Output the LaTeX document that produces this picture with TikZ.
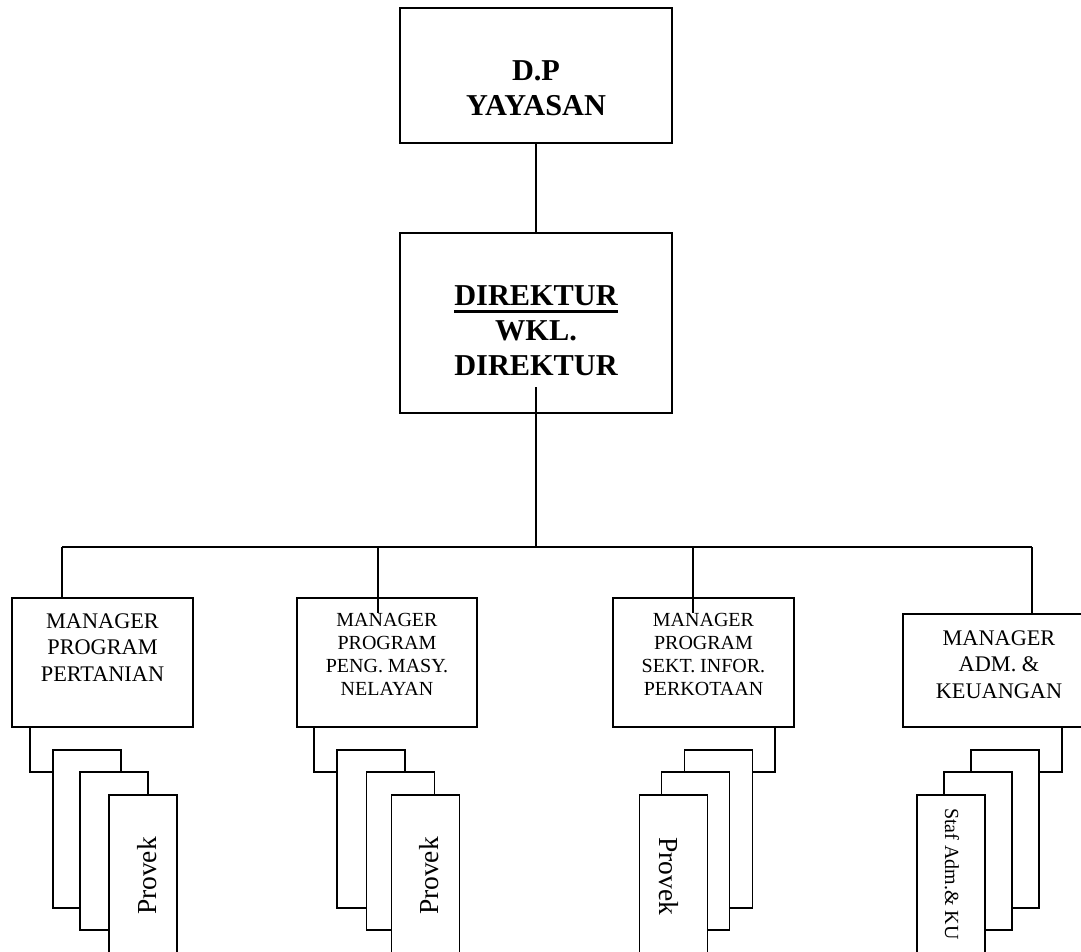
\documentclass[tikz,border=0pt]{standalone}
\usepackage{fontspec}
\setmainfont{Liberation Serif}
\newcommand\thickul[1]{\setbox0\hbox{#1}\rlap{\raisebox{-7.5pt}{\rule{\wd0}{2.6pt}}}\box0}
\begin{document}
\begin{tikzpicture}[x=1pt,y=-1pt,
  box/.style={draw,line width=1.5pt,fill=white,rectangle,inner sep=0pt},
  card/.style={box,minimum width=68pt,minimum height=158pt},
  link/.style={line width=1.5pt},
  % text blocks are placed by the baseline of their last line
  head/.style={inner sep=0pt,anchor=base,align=center,font=\bfseries\fontsize{30.3}{35}\selectfont},
  mgrA/.style={inner sep=0pt,anchor=base,align=center,font=\fontsize{22.3}{26.5}\selectfont},
  mgrB/.style={inner sep=0pt,anchor=base,align=center,font=\fontsize{20}{22.7}\selectfont},
  lbl/.style={inner sep=0pt,font=\fontsize{27.5}{30}\selectfont}]
\useasboundingbox (0,0) rectangle (1081,951);
\clip (0,0) rectangle (1081,951);

% top level
\node[box,minimum width=272pt,minimum height=135pt] (dp) at (536,75.5) {};
\node[head] (dpt) at (536,115) {D.P\\YAYASAN};
\node[box,minimum width=272pt,minimum height=180pt] (dir) at (536,323) {};
\node[head] (dirt) at (536,375) {\thickul{DIREKTUR}\\WKL.\\DIREKTUR};
\draw[link] (dp.south) -- (dir.north);

% bus to the managers
\coordinate (dout) at (536,387);
\coordinate (dbus) at (536,547);
\coordinate (b1) at (62,547);
\coordinate (b2) at (378,547);
\coordinate (b3) at (693,547);
\coordinate (b4) at (1032,547);
\draw[link] (dout) -- (dbus);
\draw[link] (b1) -- (b4);

% managers
\node[box,minimum width=181pt,minimum height=129pt] (m1) at (102.5,662.5) {};
\node[mgrA] (m1t) at (102.5,681) {MANAGER\\PROGRAM\\PERTANIAN};
\node[box,minimum width=180pt,minimum height=129pt] (m2) at (387,662.5) {};
\node[mgrB] (m2t) at (387,695) {MANAGER\\PROGRAM\\PENG. MASY.\\NELAYAN};
\node[box,minimum width=181pt,minimum height=129pt] (m3) at (703.5,662.5) {};
\node[mgrB] (m3t) at (703.5,695) {MANAGER\\PROGRAM\\SEKT. INFOR.\\PERKOTAAN};
\node[box,minimum width=192pt,minimum height=113pt] (m4) at (999,670.5) {};
\node[mgrA] (m4t) at (999,698) {MANAGER\\ADM. \&\\KEUANGAN};

\coordinate (m2in) at (378,613);
\coordinate (m3in) at (693,613);
\draw[link] (b1) -- (b1 |- m1.north);
\draw[link] (b2) -- (m2in);
\draw[link] (b3) -- (m3in);
\draw[link] (b4) -- (b4 |- m4.north);

% stacks under each manager
\coordinate (k1) at (30,772);
\coordinate (k2) at (314,772);
\coordinate (k3) at (775,772);
\coordinate (k4) at (1062,772);

\node[card] (c11) at (87,829) {};
\node[card] (c12) at (114,851) {};
\node[card] (c13) at (143,874) {};
\node[lbl,rotate=90] (p1) at (147,876) {Provek};
\draw[link] (k1 |- m1.south) -- (k1) -- (c11.west |- k1);

\node[card] (c21) at (371,829) {};
\node[card] (c22) at (400.5,851) {};
\node[card] (c23) at (425.5,874) {};
\node[lbl,rotate=90] (p2) at (429,876) {Provek};
\draw[link] (k2 |- m2.south) -- (k2) -- (c21.west |- k2);

\node[card] (c31) at (718.5,829) {};
\node[card] (c32) at (695.5,851) {};
\node[card] (c33) at (673.5,874) {};
\node[lbl,rotate=-90] (p3) at (669,876) {Provek};
\draw[link] (k3 |- m3.south) -- (k3) -- (c31.east |- k3);

\node[card] (c41) at (1005,829) {};
\node[card] (c42) at (978,851) {};
\node[card] (c43) at (951,874) {};
\node[lbl,rotate=-90,font=\fontsize{20}{22}\selectfont] (p4) at (952,874) {Staf Adm.\& KU};
\draw[link] (k4 |- m4.south) -- (k4) -- (c41.east |- k4);
\end{tikzpicture}
\end{document}
